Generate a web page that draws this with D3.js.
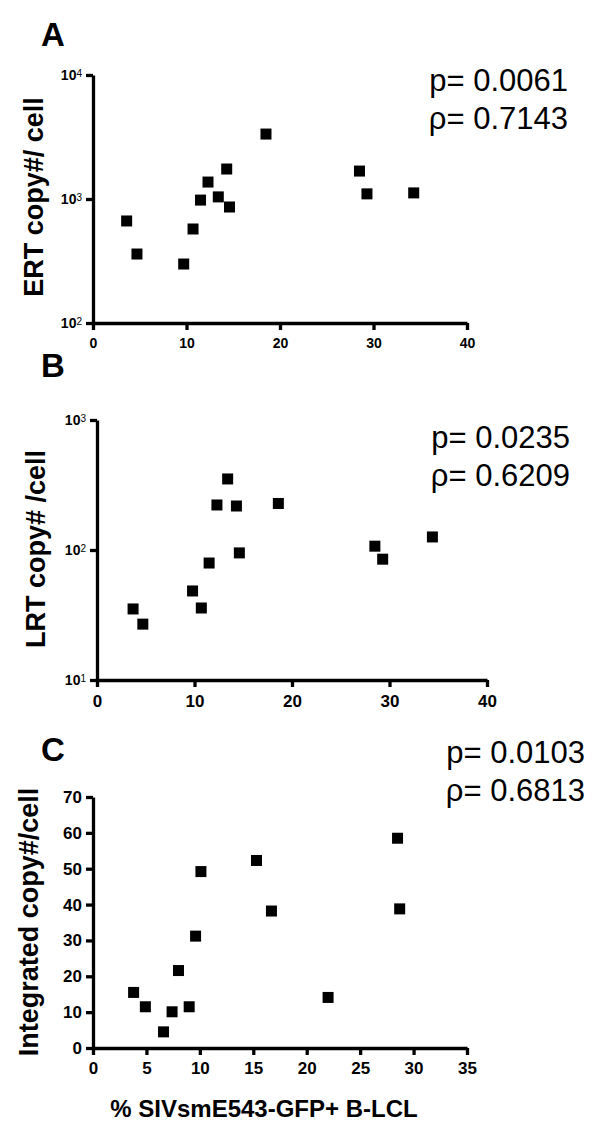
<!DOCTYPE html>
<html>
<head>
<meta charset="utf-8">
<script src="https://cdn.jsdelivr.net/npm/d3@7"></script>
<style>
  body { margin: 0; background: #fff; }
  text { font-family: "Liberation Sans", Arial, sans-serif; }
</style>
</head>
<body>
<div id="fig"></div>
<script>
// panel A: ERT copies
var ertX = [3.6, 4.7, 9.7, 10.7, 11.5, 12.3, 13.4, 14.3, 14.6, 18.5, 28.5, 29.3, 34.3];
var ertY = [665, 360, 299, 573, 980, 1370, 1040, 1745, 862, 3340, 1680, 1100, 1120];
// panel B: LRT copies
var lrtX = [3.7, 4.7, 9.8, 10.7, 11.5, 12.3, 13.4, 14.3, 14.6, 18.6, 28.5, 29.3, 34.4];
var lrtY = [35.2, 26.9, 48.4, 35.8, 79.4, 222, 352, 218, 95, 228, 107, 85, 126];
// panel C: integrated copies
var intX = [3.8, 4.9, 6.6, 7.4, 8.0, 9.0, 9.6, 10.1, 15.3, 16.7, 22.0, 28.5, 28.7];
var intY = [15.5, 11.5, 4.5, 10.1, 21.6, 11.5, 31.2, 49.2, 52.3, 38.2, 14.1, 58.5, 38.8];

var xTicksAB = [0, 10, 20, 30, 40];
var xTicksC = [0, 5, 10, 15, 20, 25, 30, 35];
var yTicksA = [100, 1000, 10000];
var yTicksB = [10, 100, 1000];
var yTicksC = [0, 10, 20, 30, 40, 50, 60, 70];

var svg = d3.select("#fig").append("svg")
  .attr("width", 600)
  .attr("height", 1136);

// draws one scatter panel
function panel(opt) {
  var g = svg.append("g");

  var xAxis = d3.axisBottom(opt.x).tickValues(opt.xTicks)
    .tickSize(7).tickSizeOuter(0).tickPadding(opt.xPad).tickFormat(d3.format("d"));
  var yAxis = d3.axisLeft(opt.y).tickValues(opt.yTicks)
    .tickSize(7).tickSizeOuter(0).tickPadding(4);
  if (opt.log) yAxis.tickFormat(function() { return ""; });
  else yAxis.tickFormat(d3.format("d"));

  var xg = g.append("g")
    .attr("transform", "translate(0," + opt.y.range()[0] + ")")
    .call(xAxis);
  var yg = g.append("g")
    .attr("transform", "translate(" + opt.x.range()[0] + ",0)")
    .call(yAxis);

  [xg, yg].forEach(function(a) {
    a.selectAll("path, line").style("stroke", "#000").style("stroke-width", "3.3px");
    a.selectAll("text").attr("fill", "#000").style("font-weight", "bold")
      .style("font-family", "'Liberation Sans', Arial, sans-serif");
  });
  xg.selectAll("text").style("font-size", opt.xFont + "px");
  yg.selectAll("text").style("font-size", opt.yFont + "px");

  // powers of ten as 10 with a superscript
  if (opt.log) {
    yg.selectAll(".tick text").each(function(d) {
      var t = d3.select(this).text(null);
      t.append("tspan").text("10");
      t.append("tspan").attr("dy", "-0.3em").style("font-size", "10px")
        .style("font-weight", "normal")
        .text(Math.round(Math.log10(d)));
    });
  }

  g.selectAll("rect.pt")
    .data(opt.xs.map(function(v, i) { return [v, opt.ys[i]]; }))
    .enter().append("rect")
    .attr("class", "pt")
    .attr("x", function(d) { return opt.x(d[0]) - 5.5; })
    .attr("y", function(d) { return opt.y(d[1]) - 5.5; })
    .attr("width", 11)
    .attr("height", 11)
    .attr("fill", "#000");

  // panel letter
  g.append("text")
    .attr("x", 41).attr("y", opt.letterY)
    .style("font-size", "33px").style("font-weight", "bold")
    .text(opt.letter);

  // y axis title
  g.append("text")
    .attr("transform", "translate(" + opt.titleX + "," + opt.titleY + ") rotate(-90)")
    .attr("text-anchor", "middle")
    .style("font-size", "27px").style("font-weight", "bold")
    .text(opt.title);

  // stats
  g.append("text")
    .attr("x", opt.statX).attr("y", opt.statY)
    .attr("text-anchor", "end")
    .style("font-size", "31px")
    .text(opt.stats[0]);
  g.append("text")
    .attr("x", opt.statX).attr("y", opt.statY + 38)
    .attr("text-anchor", "end")
    .style("font-size", "31px")
    .text(opt.stats[1]);
}

panel({
  x: d3.scaleLinear().domain([0, 40]).range([93, 467]),
  y: d3.scaleLog().domain([100, 10000]).range([323, 75]),
  log: true, xTicks: xTicksAB, yTicks: yTicksA,
  xs: ertX, ys: ertY, xPad: 8, xFont: 14, yFont: 14,
  letter: "A", letterY: 46,
  title: "ERT copy#/ cell", titleX: 43, titleY: 197,
  stats: ["p= 0.0061", "\u03c1= 0.7143"], statX: 568, statY: 91
});

panel({
  x: d3.scaleLinear().domain([0, 40]).range([97, 487]),
  y: d3.scaleLog().domain([10, 1000]).range([680, 420]),
  log: true, xTicks: xTicksAB, yTicks: yTicksB,
  xs: lrtX, ys: lrtY, xPad: 8, xFont: 17, yFont: 14,
  letter: "B", letterY: 377,
  title: "LRT copy# /cell", titleX: 45, titleY: 549,
  stats: ["p= 0.0235", "\u03c1= 0.6209"], statX: 570, statY: 448
});

panel({
  x: d3.scaleLinear().domain([0, 35]).range([93, 467]),
  y: d3.scaleLinear().domain([0, 70]).range([1048, 797]),
  log: false, xTicks: xTicksC, yTicks: yTicksC,
  xs: intX, ys: intY, xPad: 7, xFont: 17, yFont: 17,
  letter: "C", letterY: 761,
  title: "Integrated copy#/cell", titleX: 38, titleY: 922,
  stats: ["p= 0.0103", "\u03c1= 0.6813"], statX: 585, statY: 763
});

// shared x axis title under panel C
svg.append("text")
  .attr("x", 264).attr("y", 1117)
  .attr("text-anchor", "middle")
  .style("font-size", "24px").style("font-weight", "bold")
  .text("% SIVsmE543-GFP+ B-LCL");
</script>
</body>
</html>
